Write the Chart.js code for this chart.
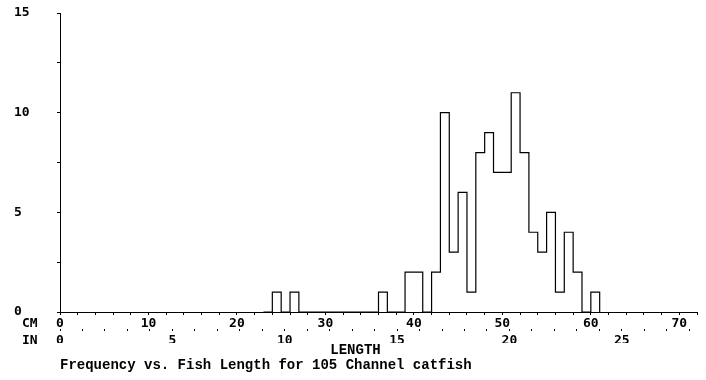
<!DOCTYPE html>
<html>
<head>
<meta charset="utf-8">
<script src="https://cdn.jsdelivr.net/npm/chart.js@4/dist/chart.umd.min.js"></script>
<style>
  html, body { margin: 0; padding: 0; background: #fff; }
  #wrap { width: 706px; height: 380px; }
</style>
</head>
<body>
<div id="wrap"><canvas id="hist" width="706" height="380"></canvas></div>
<script>
// ---------- Data ----------
// left edge of each 1 cm length class, and how many fish fell in it
const binStartCm = [23, 24, 25, 26, 27, 28, 29, 30, 31, 32, 33, 34, 35, 36, 37, 38, 39, 40, 41, 42,
                    43, 44, 45, 46, 47, 48, 49, 50, 51, 52, 53, 54, 55, 56, 57, 58, 59, 60, 61];
const fishCount  = [0, 1, 0, 1, 0, 0, 0, 0, 0, 0, 0, 0, 0, 1, 0, 0, 2, 2, 0, 2,
                    10, 3, 6, 1, 8, 9, 7, 7, 11, 8, 4, 3, 5, 1, 4, 2, 0, 1, 0];

const yLabels  = [0, 5, 10, 15];
const cmLabels = [0, 10, 20, 30, 40, 50, 60, 70];
const inLabels = [0, 5, 10, 15, 20, 25];
const rowNames = ["CM", "IN"];
const axisTitle = "LENGTH";
const captionText = "Frequency vs. Fish Length for 105 Channel catfish";

const CM_PER_IN = 2.54;
const X_MAX_CM = 72;

// ---------- Fonts ----------
const mono = "'DejaVu Sans Mono', monospace";
const serifMono = "'Liberation Mono', monospace";
const tickFont = { family: mono, size: 13, weight: "bold", lineHeight: 1 };
const textFont = { family: serifMono, size: 14, weight: "bold", lineHeight: 1 };

// "CM" / "IN" names to the left of the two length rows
const rowNamesPlugin = {
    id: "rowNames",
    afterDraw(chart) {
        const ctx = chart.ctx;
        ctx.save();
        ctx.font = `bold ${tickFont.size}px ${mono}`;
        ctx.fillStyle = "#000";
        ctx.textAlign = "left";
        ctx.textBaseline = "middle";
        ["x", "xIn"].forEach((id, i) => {
            const s = chart.scales[id];
            const y = s.top + s.options.grid.tickLength + s.options.ticks.padding + tickFont.size / 2;
            ctx.fillText(rowNames[i], 22, y);
        });
        ctx.restore();
    }
};

new Chart(document.getElementById("hist"), {
    type: "line",
    data: {
        datasets: [{
            data: binStartCm.map((x, i) => ({ x: x, y: fishCount[i] })),
            stepped: "before",
            borderColor: "#000",
            borderWidth: 1.2,
            pointRadius: 0,
            fill: false
        }]
    },
    options: {
        responsive: false,
        animation: false,
        events: [],
        layout: { padding: { left: 14, right: 9, top: 13, bottom: 8 } },
        plugins: {
            legend: { display: false },
            tooltip: { enabled: false },
            subtitle: {
                display: true,
                text: axisTitle,
                position: "bottom",
                color: "#000",
                font: textFont,
                padding: { top: 0, bottom: 1 }
            },
            title: {
                display: true,
                text: captionText,
                position: "bottom",
                align: "start",
                fullSize: false,
                color: "#000",
                font: textFont,
                padding: { top: 0, bottom: 0 }
            }
        },
        scales: {
            x: {
                type: "linear",
                position: "bottom",
                min: 0,
                max: X_MAX_CM,
                ticks: {
                    stepSize: 2,
                    autoSkip: false,
                    maxRotation: 0,
                    color: "#000",
                    font: tickFont,
                    padding: 2,
                    callback: v => cmLabels.includes(v) ? String(v) : ""
                },
                grid: { drawOnChartArea: false, color: "#000", tickLength: 3 },
                border: { color: "#000" },
                afterFit: s => { s.height = 17; }
            },
            xIn: {
                type: "linear",
                position: "bottom",
                min: 0,
                max: X_MAX_CM / CM_PER_IN,
                ticks: {
                    stepSize: 1,
                    autoSkip: false,
                    maxRotation: 0,
                    includeBounds: false,
                    color: "#000",
                    font: tickFont,
                    padding: 3,
                    callback: v => inLabels.includes(v) ? String(v) : ""
                },
                grid: { drawOnChartArea: false, color: "#000", tickLength: 2 },
                border: { display: false },
                afterFit: s => { s.height = 14; }
            },
            y: {
                min: 0,
                max: 15,
                ticks: {
                    stepSize: 2.5,
                    crossAlign: "far",
                    color: "#000",
                    font: tickFont,
                    callback: v => yLabels.includes(v) ? String(v) : ""
                },
                grid: { drawOnChartArea: false, color: "#000", tickLength: 3 },
                border: { color: "#000" },
                afterFit: s => { s.width = 46; }
            }
        }
    },
    plugins: [rowNamesPlugin]
});
</script>
</body>
</html>
